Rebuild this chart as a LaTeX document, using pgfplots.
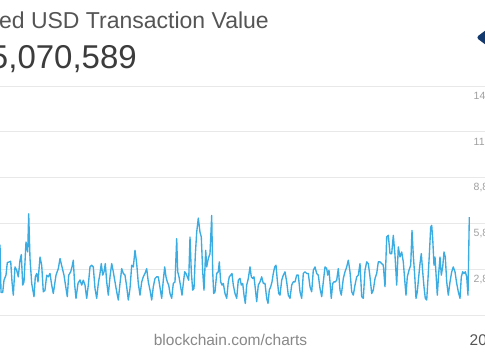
\documentclass[border=0pt]{standalone}
\usepackage{pgfplots}
\pgfplotsset{compat=1.18}
\usepackage{fontspec}
\setmainfont{Liberation Sans}
\definecolor{linec}{RGB}{58,172,226}
\definecolor{gridc}{RGB}{232,232,232}
\definecolor{ticklab}{RGB}{160,160,160}
\definecolor{titlec}{RGB}{85,85,85}
\definecolor{bigc}{RGB}{60,60,60}
\definecolor{logoc}{RGB}{18,58,110}
\begin{document}
\begin{tikzpicture}[x=1pt,y=1pt]
\path[use as bounding box] (0,0) rectangle (485,360);
\fill[white] (0,0) rectangle (485,360);
\clip (0,0) rectangle (485,360);
\node[anchor=base east, inner sep=0pt, text=titlec, font=\fontsize{23}{24}\selectfont] at (269,332) {ed USD Transaction Value};
\node[anchor=base east, inner sep=0pt, text=bigc, font=\fontsize{33}{36}\selectfont] at (137,292) {5,070,589};
\fill[logoc, rounded corners=3pt] (476,322.5) -- (490,333) -- (504,322.5) -- (490,312) -- cycle;
\node[anchor=base, inner sep=0pt, text=ticklab!85!black, font=\fontsize{15.5}{17}\selectfont] at (230.5,15) {blockchain.com/charts};
\node[anchor=base west, inner sep=0pt, text=titlec, font=\fontsize{15.5}{17}\selectfont] at (469.5,15) {20};
\begin{axis}[
  at={(0pt,45pt)}, anchor=south west,
  scale only axis, width=485pt, height=229pt,
  xmin=0, xmax=485, ymin=-0.2, ymax=14.8,
  axis line style={draw=none},
  xtick=\empty,
  ytick={-0.2,2.8,5.8,8.8,11.8,14.8},
  yticklabels={,{2,8},{5,8},{8,8},{11},{14}},
  yticklabel pos=right,
  major tick length=0pt,
  yticklabel style={anchor=west, inner sep=0pt, xshift=-11.5pt, yshift=-10pt, text=ticklab, font=\fontsize{10.5}{11}\selectfont},
  ymajorgrids, grid style={gridc, line width=1pt},
  clip=false,
]
\addplot[linec, line width=1.35pt, line join=round, mark=none] coordinates {
(0,4.41)(1,1.28)(2.7,1.28)(4,2.08)(6,2.41)(7.3,3.23)(9.3,3.28)(10.7,3.32)(12,1.97)(13.3,1.10)(15,2.95)(16.7,2.73)(18.3,2.30)(20,3.39)(21.3,3.76)(22.7,1.76)(24,1.97)(26,4.58)(27.7,3.93)(28.7,6.43)(30,3.50)(31.7,1.87)(34,1.00)(35.3,2.30)(36.7,2.52)(38,1.97)(40,3.60)(41.7,3.06)(43.3,1.32)(45,1.43)(46.7,2.41)(48.3,2.30)(50,2.52)(51.7,1.76)(53.3,1.21)(56,2.41)(58.3,2.84)(60,3.50)(62,2.95)(64,2.41)(66,1.54)(67.3,1.00)(68.7,2.41)(70.7,2.63)(72,2.95)(73.3,3.39)(74.7,1.76)(76,0.89)(78,1.87)(80,2.1)(81.7,1.76)(83.3,2.08)(85,1.76)(86.7,0.89)(88.3,1.76)(90,2.95)(91.7,3.06)(93.3,2.95)(95,1.54)(96.7,0.89)(98.3,1.87)(100,2.52)(101.3,3.17)(102.7,2.41)(104,2.63)(105.3,3.17)(106.7,1.97)(108.3,1.10)(110,2.30)(111.7,3.17)(113.3,2.63)(115,1.97)(116.7,1.32)(118.3,0.78)(120,1.87)(121.7,2.84)(123.3,2.52)(125,2.41)(126.7,1.65)(128.3,0.78)(130,1.54)(131.7,3.06)(133.3,2.95)(135,4.04)(136.7,3.17)(138.3,1.87)(140,1.10)(141.7,1.97)(143.3,2.30)(145,2.52)(146.7,2.84)(148.3,1.97)(150,1.43)(151.7,0.78)(153.3,1.65)(155,2.19)(156.7,2.30)(158.3,2.30)(160,1.6)(161.7,0.89)(163.3,2.08)(164.7,2.95)(166,2.30)(167.3,1.97)(168.7,1.76)(170,1.21)(171.7,0.89)(173.3,1.87)(175,1.97)(176.7,4.80)(177.7,2.63)(179,2.30)(180.7,1.65)(182,1.10)(183.3,1.87)(184.7,2.63)(186,2.52)(187.3,2.30)(188.7,2.08)(190,4.91)(191.3,2.63)(192.7,1.43)(194,1.54)(195.3,3.71)(196.7,5.23)(198.3,6.15)(200,5.23)(201.3,4.91)(202.7,2.63)(204,1.43)(205.7,4.04)(206.7,2.95)(208.3,3.50)(210,3.82)(211.7,6.32)(212.7,2.63)(213.7,1.21)(215,1.32)(216.7,2.52)(218.3,2.63)(219.3,3.28)(220.7,1.97)(222,1.76)(223.3,1.87)(225,1.21)(226.7,0.89)(228.3,1.97)(229.3,2.30)(230.7,2.41)(232,2.52)(233.3,1.76)(235,1.21)(236.7,0.89)(238.3,2.08)(240,2.2)(241.3,1.76)(242.7,1.87)(244,1.10)(245.3,0.56)(246.7,1.76)(248.3,2.19)(250,2.95)(251.3,2.30)(252.7,2.19)(254,2.30)(255.3,1.54)(256.7,0.67)(258.3,1.76)(260,1.97)(261.7,2.30)(263.3,1.87)(265,1.87)(266.7,0.89)(268,0.56)(269.3,1.43)(270.7,1.65)(272,1.97)(273.3,2.52)(274.7,2.95)(276,3.06)(277.3,2.08)(278.7,1.21)(280,1.10)(281.7,2.08)(283.3,2.41)(285,2.63)(286.7,1.97)(288.3,1.10)(290,0.89)(291.7,1.76)(293.3,1.97)(295,1.97)(296.7,2.41)(298.3,2.41)(300,1.32)(301.7,0.89)(303.3,2.52)(305,2.63)(306.7,2.52)(308.3,2.52)(310,1.65)(311.7,1.32)(313.3,2.73)(315,2.95)(316.7,2.52)(318.3,2.41)(320,1.54)(321.7,1.00)(323.3,1.97)(325,2.95)(326.7,2.84)(327.7,2.41)(329,2.73)(330,1.97)(331.3,0.89)(332.7,1.87)(334,1.97)(335.3,1.97)(336.7,2.08)(338.3,2.84)(340,1.43)(341.3,1.10)(343.3,2.19)(345,2.63)(346.7,2.95)(348.3,3.39)(350,2.63)(351.7,1.32)(353.3,1.10)(355,1.76)(356.7,2.30)(358.3,2.41)(360,3.17)(361.7,1.00)(363.3,0.89)(365,2.73)(366.7,3.28)(368.3,3.17)(370,2.30)(371.7,1.21)(373.3,1.43)(375,2.19)(376.7,2.52)(378.3,3.28)(380,3.28)(381.7,3.17)(383.3,3.06)(385,1.65)(386.7,4.91)(388.3,5.02)(390,3.82)(391.7,3.82)(393.3,5.02)(395,3.71)(396.7,1.76)(398.3,4.26)(400,3.60)(401.7,3.93)(403.3,3.28)(405,1.87)(406,1.10)(407.3,2.30)(409,2.73)(410.7,3.06)(412,5.34)(413.3,3.71)(414.7,2.41)(416,0.89)(417.3,1.32)(418.7,2.30)(420,3.17)(421.3,3.82)(422.7,2.63)(424,1.65)(425.3,0.89)(426.7,0.78)(428,2.19)(429.3,3.71)(430.7,5.56)(431.7,5.67)(432.7,4.80)(434,3.06)(435,3.60)(436,2.52)(437.3,1.10)(438.7,2.52)(440,3.60)(441.3,2.41)(442.7,2.95)(444,3.93)(445.3,3.60)(446.7,1.97)(448.3,1.10)(450,1.97)(451.7,2.63)(453.3,2.95)(455,2.63)(456.7,1.87)(458.3,1.32)(460,0.89)(461.3,2.30)(462.7,2.63)(464,2.52)(465.3,2.63)(466.7,2.30)(468,1.10)(469.3,6.21)
};
\end{axis}
\end{tikzpicture}
\end{document}
